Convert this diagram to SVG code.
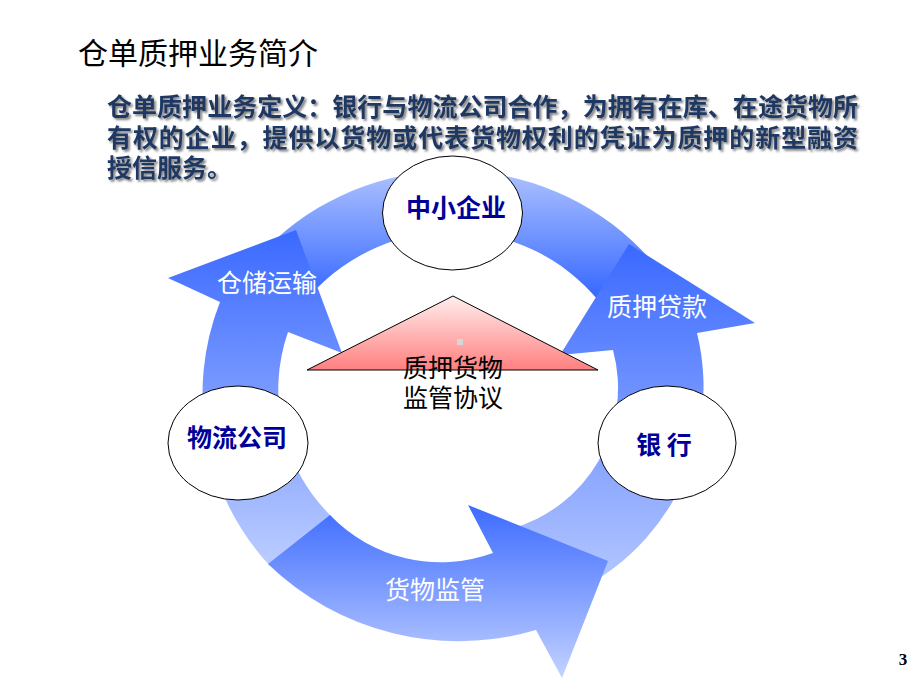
<svg xmlns="http://www.w3.org/2000/svg" width="920" height="690" viewBox="0 0 920 690">
  <defs>
    <linearGradient id="gTop" gradientUnits="userSpaceOnUse" x1="0" y1="171" x2="0" y2="300">
      <stop offset="0" stop-color="#AEC2FF"/>
      <stop offset="1" stop-color="#3366FF"/>
    </linearGradient>
    <linearGradient id="gLeft" gradientUnits="userSpaceOnUse" x1="0" y1="230" x2="0" y2="566">
      <stop offset="0" stop-color="#3A69FF"/>
      <stop offset="1" stop-color="#BCCDFF"/>
    </linearGradient>
    <linearGradient id="gRight" gradientUnits="userSpaceOnUse" x1="0" y1="244" x2="0" y2="606">
      <stop offset="0" stop-color="#3A69FF"/>
      <stop offset="1" stop-color="#BCCDFF"/>
    </linearGradient>
    <linearGradient id="gBottom" gradientUnits="userSpaceOnUse" x1="0" y1="505" x2="0" y2="678">
      <stop offset="0" stop-color="#3D6BFF"/>
      <stop offset="1" stop-color="#C3D2FF"/>
    </linearGradient>
    <linearGradient id="gTri" gradientUnits="userSpaceOnUse" x1="0" y1="296" x2="0" y2="370">
      <stop offset="0" stop-color="#FFEEEE"/>
      <stop offset="1" stop-color="#FF7F7F"/>
    </linearGradient>
    <filter id="shadow" x="-5%" y="-20%" width="110%" height="150%">
      <feGaussianBlur in="SourceAlpha" stdDeviation="1"/>
      <feOffset dx="2" dy="2" result="blur"/>
      <feFlood flood-color="#555555" flood-opacity="0.75"/>
      <feComposite in2="blur" operator="in" result="sh"/>
      <feMerge>
        <feMergeNode in="sh"/>
        <feMergeNode in="SourceGraphic"/>
      </feMerge>
    </filter>
  </defs>
  <style>
    .title { font-family: "Noto Sans CJK SC", "Noto Sans", sans-serif; font-size: 30px; fill: #000; }
    .def { font-family: "Noto Sans CJK SC", "Noto Sans", sans-serif; font-size: 25px; font-weight: bold; fill: #1F3864; }
    .node { fill: #FFFFFF; stroke: #000; stroke-width: 1; }
    .nlabel { font-family: "Noto Sans CJK SC", "Noto Sans", sans-serif; font-size: 25px; font-weight: bold; fill: #000099; text-anchor: middle; }
    .alabel { font-family: "Noto Sans CJK SC", "Noto Sans", sans-serif; font-size: 25px; fill: #FFFFFF; text-anchor: middle; }
    .tlabel { font-family: "Noto Sans CJK SC", "Noto Sans", sans-serif; font-size: 25px; fill: #000; text-anchor: middle; }
  </style>
  <rect width="920" height="690" fill="#FFFFFF"/>

  <text class="title" x="78" y="64">仓单质押业务简介</text>

  <g id="definition" filter="url(#shadow)">
    <text class="def" x="107" y="116" textLength="751" lengthAdjust="spacing">仓单质押业务定义：银行与物流公司合作，为拥有在库、在途货物所</text>
    <text class="def" x="107" y="147" textLength="751" lengthAdjust="spacing">有权的企业，提供以货物或代表货物权利的凭证为质押的新型融资</text>
    <text class="def" x="107" y="177">授信服务。</text>
  </g>

  <g id="connectors">
    <path id="ring-top" d="M 276,239 A 264 264 0 0 1 650,259 L 598,300 A 190 190 0 0 0 312,293.5 Z" fill="url(#gTop)"/>
    <g id="arrow-storage">
      <path d="M 270,566 A 252 252 0 0 1 220,302 L 168,278 L 296,230 L 342,353 L 288,332 A 177 177 0 0 0 332,517 Z" fill="url(#gLeft)"/>
      <text class="alabel" x="267" y="292">仓储运输</text>
    </g>
    <g id="arrow-loan">
      <path d="M 509.8,529 L 535.8,606.3 A 227 227 0 0 0 697,333 L 755,323 L 629,244 L 560,355 L 613,350 A 146 146 0 0 1 509.8,529 Z" fill="url(#gRight)"/>
      <text class="alabel" x="657" y="316">质押贷款</text>
    </g>
    <g id="arrow-supervision">
      <path d="M 268,564 A 274 274 0 0 0 536,630 L 562,678 L 608,561 L 468,505 L 493,553 A 153 153 0 0 1 330,515 Z" fill="url(#gBottom)"/>
      <text class="alabel" x="435" y="599">货物监管</text>
    </g>
  </g>

  <g id="agreement">
    <polygon points="307,370 453,296 598,370" fill="url(#gTri)" stroke="#000" stroke-width="1"/>
    <rect x="457" y="339" width="6" height="6" fill="#D6D6D6"/>
    <text class="tlabel" x="453" y="377">质押货物</text>
    <text class="tlabel" x="453" y="407">监管协议</text>
  </g>

  <g id="sme">
    <ellipse class="node" cx="452.5" cy="213" rx="70" ry="57"/>
    <text class="nlabel" x="456" y="217">中小企业</text>
  </g>
  <g id="logistics">
    <ellipse class="node" cx="238" cy="443" rx="70" ry="57"/>
    <text class="nlabel" x="237" y="447">物流公司</text>
  </g>
  <g id="bank">
    <ellipse class="node" cx="667" cy="443" rx="69" ry="57"/>
    <text class="nlabel" x="664" y="454">银 行</text>
  </g>

  <text x="903" y="665" font-family="Liberation Serif, serif" font-size="17" font-weight="bold" text-anchor="middle" fill="#000">3</text>
</svg>
